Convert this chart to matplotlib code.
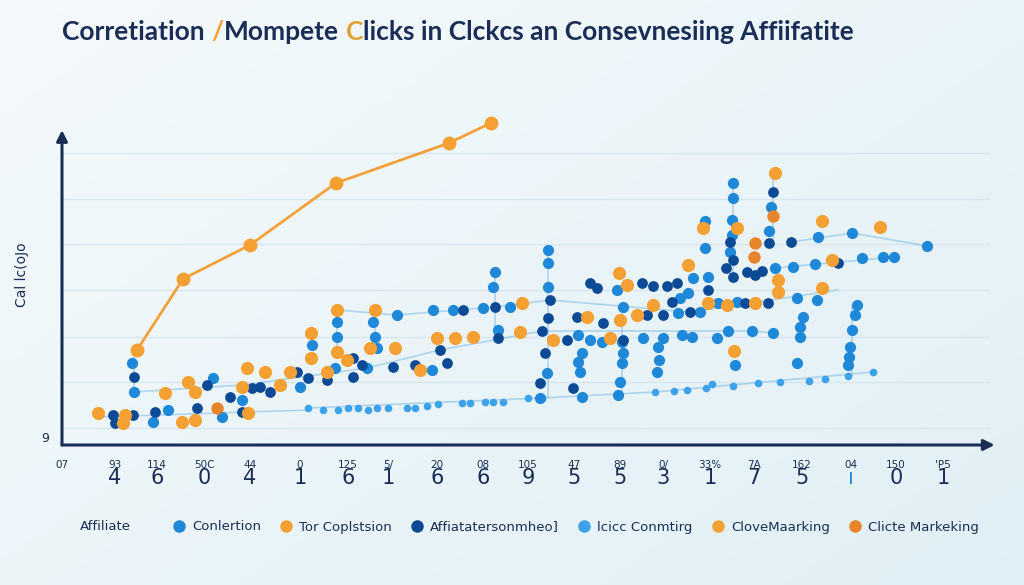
import numpy as np
import matplotlib.pyplot as plt
from matplotlib.lines import Line2D

# colours ----
NAVY = "#1b2d56"
BLUE = "#1f88d9"
DARK_BLUE = "#0d4a96"
LIGHT_BLUE = "#3ea2ea"
ORANGE = "#f5a033"
DARK_ORANGE = "#e8842a"

# data (clicks vs conversions) ----
line_x = [7.5, 12.1, 18.8, 27.4, 38.7, 42.9]
line_y = [9.5, 16.6, 20.0, 26.2, 30.2, 32.2]

orange_x = [3.6, 6.3, 6.1, 12.0, 13.3, 18.6, 10.3, 12.6, 13.3, 18.5, 18.0, 20.3, 21.8, 22.8,
            26.5, 28.5, 35.8, 27.5, 27.5, 24.9, 24.9, 31.3, 30.8, 33.3, 37.5, 39.3, 41.1, 46.0,
            45.8, 49.1, 52.5, 54.8, 55.8, 55.7, 56.5, 57.5, 59.1, 62.6, 64.1, 64.6, 66.5, 69.3,
            71.6, 71.6, 67.2, 67.5, 71.3, 76.0, 81.8, 77.0, 76.0]
orange_y = [3.2, 3.0, 2.2, 2.3, 2.5, 3.2, 5.2, 6.3, 5.3, 7.7, 5.8, 7.3, 6.0, 7.3,
            7.3, 8.5, 7.5, 13.5, 9.3, 11.2, 8.7, 13.5, 9.7, 9.7, 10.7, 10.7, 10.8, 14.2,
            11.3, 10.5, 12.8, 10.7, 12.5, 17.2, 16.0, 13.0, 14.0, 18.0, 21.7, 14.2, 14.0, 14.2,
            15.3, 16.5, 9.4, 21.7, 27.2, 22.4, 21.8, 18.5, 15.7]

dark_orange_x = [15.5, 69.3, 69.2, 71.1]
dark_orange_y = [3.7, 20.2, 18.8, 22.9]

dark_x = [5.1, 5.3, 7.1, 9.3, 13.5, 18.0, 7.2, 14.5, 16.8, 19.0, 19.8, 20.8, 23.5, 24.6,
          26.5, 29.1, 29.1, 30.0, 33.1, 35.3, 37.8, 38.5, 40.1, 43.3, 43.6, 48.8, 48.6, 48.0,
          50.5, 51.5, 52.8, 53.5, 54.1, 56.1, 58.0, 59.1, 58.5, 60.1, 60.5, 61.0, 61.5, 62.8,
          64.6, 68.3, 70.6, 66.8, 67.1, 66.4, 67.1, 71.1, 70.7, 68.5, 69.3, 70.0, 72.9, 77.6,
          51.1, 47.8, 48.3]
dark_y = [3.0, 2.2, 3.0, 3.3, 3.7, 3.3, 6.8, 6.0, 4.8, 5.7, 5.8, 5.3, 7.3, 6.7,
          6.5, 8.7, 6.8, 8.0, 7.8, 8.0, 9.5, 8.2, 13.5, 13.8, 10.7, 14.5, 12.7, 11.4,
          10.5, 12.8, 16.2, 15.7, 12.2, 10.5, 16.2, 15.9, 13.0, 13.0, 15.9, 14.3, 16.2, 13.3,
          15.5, 14.2, 14.2, 20.3, 18.5, 17.7, 16.8, 25.3, 20.2, 17.3, 17.0, 17.4, 20.3, 18.2,
          5.7, 6.2, 9.2]

blue_x = [9.1, 10.6, 16.0, 7.0, 7.2, 15.1, 18.0, 23.8, 27.3, 30.5, 37.0, 27.5, 27.5, 25.0,
          31.1, 31.3, 31.5, 33.5, 37.1, 39.1, 42.1, 43.3, 43.1, 43.6, 48.6, 48.6, 48.6, 44.8,
          48.5, 47.8, 51.6, 52.0, 51.6, 51.8, 52.0, 56.1, 56.0, 56.1, 56.0, 55.8, 55.6, 59.6,
          59.7, 59.5, 55.5, 63.1, 64.3, 64.3, 61.6, 63.8, 61.8, 62.6, 64.6, 65.6, 67.5, 73.5,
          75.5, 52.8, 54.0, 58.1, 60.1, 62.0, 63.0, 65.5, 66.6, 69.0, 71.1, 67.3, 67.1, 67.1,
          67.0, 67.0, 66.8, 70.9, 70.7, 75.6, 79.0, 86.5, 71.3, 73.1, 75.3, 80.0, 82.1, 83.2,
          79.5, 79.3, 79.0, 78.8, 78.7, 78.6, 74.1, 73.8, 73.8, 73.5]
blue_y = [2.3, 3.5, 2.8, 8.2, 5.3, 6.7, 4.5, 5.8, 7.7, 7.7, 7.5, 12.3, 10.8, 10.0,
          12.3, 10.8, 9.7, 13.0, 13.5, 13.5, 13.7, 17.3, 15.8, 11.5, 19.5, 18.2, 15.8, 13.8,
          7.2, 4.7, 11.0, 9.2, 8.3, 7.3, 4.8, 13.8, 10.3, 9.2, 8.2, 6.3, 5.0, 9.8,
          8.5, 7.3, 15.5, 16.7, 19.7, 22.4, 13.2, 13.3, 14.7, 15.2, 16.8, 14.2, 14.3, 14.7,
          14.5, 10.5, 10.3, 10.7, 10.7, 11.0, 10.8, 10.7, 11.4, 11.4, 11.2, 8.0, 26.2, 24.7,
          22.5, 21.0, 19.3, 23.8, 21.4, 20.8, 21.2, 19.9, 17.7, 17.8, 18.1, 18.7, 18.8, 18.8,
          14.0, 13.0, 11.5, 9.8, 8.8, 8.0, 12.8, 11.8, 10.8, 8.2]

light_x = [24.6, 26.1, 27.6, 28.6, 29.6, 30.6, 31.5, 32.6, 34.5, 35.3, 36.5, 37.6, 40.0, 40.8,
           42.3, 43.1, 44.1, 46.6, 48.0, 59.3, 61.2, 62.5, 64.4, 65.0, 67.1, 69.6, 71.8, 74.7,
           76.3, 78.6, 81.1]
light_y = [3.7, 3.5, 3.5, 3.7, 3.7, 3.5, 3.7, 3.7, 3.7, 3.7, 3.9, 4.1, 4.2, 4.2,
           4.3, 4.3, 4.3, 4.7, 4.7, 5.3, 5.4, 5.5, 5.7, 6.1, 5.9, 6.2, 6.3, 6.4,
           6.6, 6.9, 7.3]

# faint connectors between the dots ----
link_bottom_x = [24.6, 48.0, 59.3, 81.1]
link_bottom_y = [3.7, 4.7, 5.3, 7.3]
link_low_x = [3.6, 24.6]
link_low_y = [2.8, 3.5]
link_band_x = [7.2, 18.0, 30.5, 37.8, 48.0, 69.0, 71.1]
link_band_y = [5.3, 6.0, 7.7, 9.5, 11.4, 11.4, 11.2]
link_mid_x = [27.5, 33.5, 43.3, 48.8, 62.8, 77.6]
link_mid_y = [13.5, 13.0, 13.8, 14.5, 13.3, 15.5]
link_upper_x = [72.9, 79.0, 86.5]
link_upper_y = [20.3, 21.2, 19.9]
link_right_x = [71.3, 83.2]
link_right_y = [17.7, 18.8]
stem_x = [7.2, 27.5, 31.3, 43.3, 48.6, 56.0, 67.1, 71.1, 79.0]
stem_lo = [5.3, 9.3, 9.7, 10.7, 4.7, 5.0, 16.8, 20.2, 6.9]
stem_hi = [9.5, 13.5, 13.5, 17.3, 19.5, 13.8, 26.2, 27.2, 14.0]

# tick labels ----
tick_pos = [0, 5.3, 9.5, 14.2, 18.8, 23.8, 28.6, 32.6, 37.5, 42.1, 46.6, 51.2, 55.8, 60.1,
            64.8, 69.2, 74.0, 78.9, 83.4, 88.1]
tick_small = ["07", "93", "114", "50C", "44", "0", "125", "5/", "20", "08", "105", "47", "89",
              "0/", "33%", "7A", "162", "04", "150", "'P5"]
tick_big = ["", "4", "6", "0", "4", "1", "6", "1", "6", "6", "9", "5", "5", "3", "1", "7", "5",
            "ı", "0", "1"]
grid_y = [1.7, 6.3, 10.8, 15.5, 20.1, 24.6, 29.2]

legend_labels = ["Conlertion", "Tor Coplstsion", "Affiatatersonmheo]", "lcicc Conmtirg",
                 "CloveMaarking", "Clicte Markeking"]
legend_colors = [BLUE, ORANGE, DARK_BLUE, LIGHT_BLUE, ORANGE, DARK_ORANGE]

# figure ----
fig = plt.figure(figsize=(10.24, 5.85), dpi=100)

# soft background gradient
bg = fig.add_axes([0, 0, 1, 1], zorder=-10)
gx = np.linspace(0, 1, 256)
gy = np.linspace(0, 1, 146)
gxx, gyy = np.meshgrid(gx, gy)
shade = 0.55 * gxx + 0.45 * gyy
c0 = np.array([0.96, 0.98, 0.985])
c1 = np.array([0.88, 0.94, 0.965])
img = c0[None, None, :] * (1 - shade[..., None]) + c1[None, None, :] * shade[..., None]
bg.imshow(img, aspect="auto", extent=[0, 1, 0, 1], origin="upper")
bg.axis("off")

ax = fig.add_axes([62 / 1024, 1 - 445 / 585, 928 / 1024, 335 / 585])
ax.set_facecolor("none")
ax.set_xlim(0, 92.8)
ax.set_ylim(0, 33.5)

for gyv in grid_y:
    ax.axhline(gyv, color="#d8e7ee", lw=1, zorder=0)

# connectors
link_kw = dict(color="#7db9e3", lw=1.2, alpha=0.55, zorder=1)
for lx, ly in [(link_bottom_x, link_bottom_y), (link_low_x, link_low_y),
               (link_band_x, link_band_y), (link_mid_x, link_mid_y),
               (link_upper_x, link_upper_y), (link_right_x, link_right_y)]:
    ax.plot(lx, ly, **link_kw)
ax.vlines(stem_x, stem_lo, stem_hi, **link_kw)

# scatter series
ax.scatter(light_x, light_y, s=30, color=LIGHT_BLUE, zorder=3, linewidths=0)
ax.scatter(blue_x, blue_y, s=65, color=BLUE, zorder=3, linewidths=0)
ax.scatter(dark_x, dark_y, s=60, color=DARK_BLUE, zorder=4, linewidths=0)
ax.scatter(orange_x, orange_y, s=90, color=ORANGE, zorder=4, linewidths=0)
ax.scatter(dark_orange_x, dark_orange_y, s=80, color=DARK_ORANGE, zorder=4, linewidths=0)

# rising orange line
ax.plot(line_x, line_y, color="#f2a13c", lw=2, marker="o", markersize=10,
        markerfacecolor=ORANGE, markeredgewidth=0, zorder=5, clip_on=False)

# axes with arrows
for s in ax.spines.values():
    s.set_visible(False)
ax.annotate("", xy=(1.005, 0), xytext=(0, 0), xycoords="axes fraction",
            arrowprops=dict(arrowstyle="-|>", color=NAVY, lw=2.2, mutation_scale=16,
                            shrinkA=0, shrinkB=0))
ax.annotate("", xy=(0, 0.94), xytext=(0, 0), xycoords="axes fraction",
            arrowprops=dict(arrowstyle="-|>", color=NAVY, lw=2.2, mutation_scale=16,
                            shrinkA=0, shrinkB=0))

ax.set_yticks([])
ax.set_xticks(tick_pos)
ax.set_xticklabels(tick_small, fontsize=7.5, color=NAVY)
ax.tick_params(axis="x", length=0, pad=11)
for xp, lab in zip(tick_pos, tick_big):
    ax.text(xp, -0.1, lab, transform=ax.get_xaxis_transform(), ha="center", va="center",
            fontsize=15, color=BLUE if lab == "ı" else NAVY)
ax.text(-0.014, 0.02, "9", transform=ax.transAxes, ha="right", va="center",
        fontsize=9, color=NAVY)

fig.text(22 / 1024, 1 - 275 / 585, "Cal lc(oJo", rotation=90, ha="center", va="center",
         fontsize=10, color=NAVY)

# title in pieces so a few letters can be orange
title_kw = dict(fontsize=19, fontweight="bold", family="Lato", va="bottom", ha="left")
t = fig.text(62 / 1024, 1 - 44 / 585, "Corretiation", color=NAVY, **title_kw)
t = ax.annotate("/", xy=(1, 0), xycoords=t, xytext=(5, 0), textcoords="offset points",
                color=ORANGE, annotation_clip=False, **title_kw)
t = ax.annotate("Mompete", xy=(1, 0), xycoords=t, xytext=(0, 0), textcoords="offset points",
                color=NAVY, annotation_clip=False, **title_kw)
t = ax.annotate("C", xy=(1, 0), xycoords=t, xytext=(5, 0), textcoords="offset points",
                color="#e2a234", annotation_clip=False, **title_kw)
ax.annotate("licks in Clckcs an Consevnesiing Affiifatite", xy=(1, 0), xycoords=t,
            xytext=(0, 0), textcoords="offset points", color=NAVY, annotation_clip=False,
            **title_kw)

# legend
fig.text(80 / 1024, 1 - 527 / 585, "Affiliate", ha="left", va="center", fontsize=9.5,
         color=NAVY)
handles = [Line2D([], [], marker="o", linestyle="none", markersize=9, color=c,
                  markeredgewidth=0) for c in legend_colors]
fig.legend(handles, legend_labels, loc="center left", bbox_to_anchor=(172 / 1024, 1 - 527 / 585),
           ncol=6, frameon=False, fontsize=9.5, labelcolor=NAVY, handletextpad=0.5,
           columnspacing=1.4, handlelength=1.0, borderaxespad=0, borderpad=0)

fig.savefig("out.png", dpi=100)
